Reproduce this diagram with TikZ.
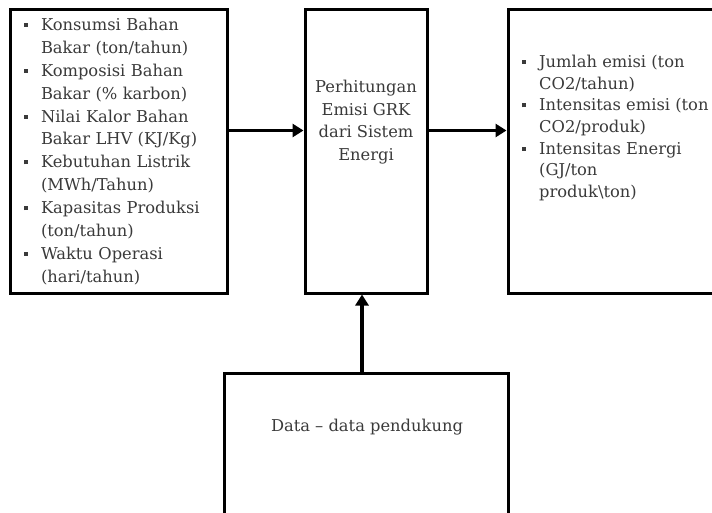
\documentclass[tikz,border=0pt]{standalone}
\usepackage{fontspec}
\setmainfont{DejaVu Serif}
\usetikzlibrary{arrows.meta}
\definecolor{txtgray}{HTML}{3A3A3A}
\newcommand{\mybul}{\makebox[17pt][l]{\raisebox{3.5pt}{\rule{4pt}{4pt}}}}
\newcommand{\myind}{\hspace*{17pt}}
\tikzset{
  box/.style={draw=black, line width=3pt, fill=white, text=txtgray},
  lbl/.style={text=txtgray, inner sep=0pt, font=\fontsize{16.3}{22.5}\selectfont},
  arr/.style={line width=3.5pt, -{Triangle[length=11pt,width=13pt]}}
}
\begin{document}
\begin{tikzpicture}[x=1pt,y=-1pt]
\useasboundingbox (0,0) rectangle (712,513);
\clip (0,0) rectangle (712,513);
\fill[white] (0,0) rectangle (712,513);
% left box
\node[box, minimum width=217pt, minimum height=283pt, text width=189pt, inner xsep=14pt, inner ysep=0pt, align=left,
      font=\fontsize{16.3}{22.9}\selectfont] (lbox) at (118.5,151.5)
 {\mybul Konsumsi Bahan\\
  \myind Bakar (ton/tahun)\\
  \mybul Komposisi Bahan\\
  \myind Bakar (\% karbon)\\
  \mybul Nilai Kalor Bahan\\
  \myind Bakar LHV (KJ/Kg)\\
  \mybul Kebutuhan Listrik\\
  \myind (MWh/Tahun)\\
  \mybul Kapasitas Produksi\\
  \myind (ton/tahun)\\
  \mybul Waktu Operasi\\
  \myind (hari/tahun)};
% middle box
\node[box, minimum width=122pt, minimum height=283pt] (mbox) at (366,151.5) {};
\node[lbl, align=center] (mtxt) at (366,122) {Perhitungan\\Emisi GRK\\dari Sistem\\Energi};
% right box
\node[box, minimum width=260pt, minimum height=283pt] (rbox) at (638,151.5) {};
\node[lbl, align=left, anchor=west, font=\fontsize{16.3}{21.7}\selectfont] (rtxt) at (522,128)
 {\mybul Jumlah emisi (ton\\
  \myind CO2/tahun)\\
  \mybul Intensitas emisi (ton\\
  \myind CO2/produk)\\
  \mybul Intensitas Energi\\
  \myind (GJ/ton\\
  \myind produk\textbackslash ton)};
% bottom box
\node[box, minimum width=284pt, minimum height=190pt] (bbox) at (366,468) {};
\node[lbl] (btxt) at (367,427) {Data – data pendukung};
% arrows
\draw[arr] ([yshift=21pt]lbox.east) -- ([yshift=21pt]mbox.west);
\draw[arr] ([yshift=21pt]mbox.east) -- ([yshift=21pt]rbox.west);
\draw[arr] ([xshift=-4pt]bbox.north) -- ([xshift=-4pt]mbox.south);
\end{tikzpicture}
\end{document}
